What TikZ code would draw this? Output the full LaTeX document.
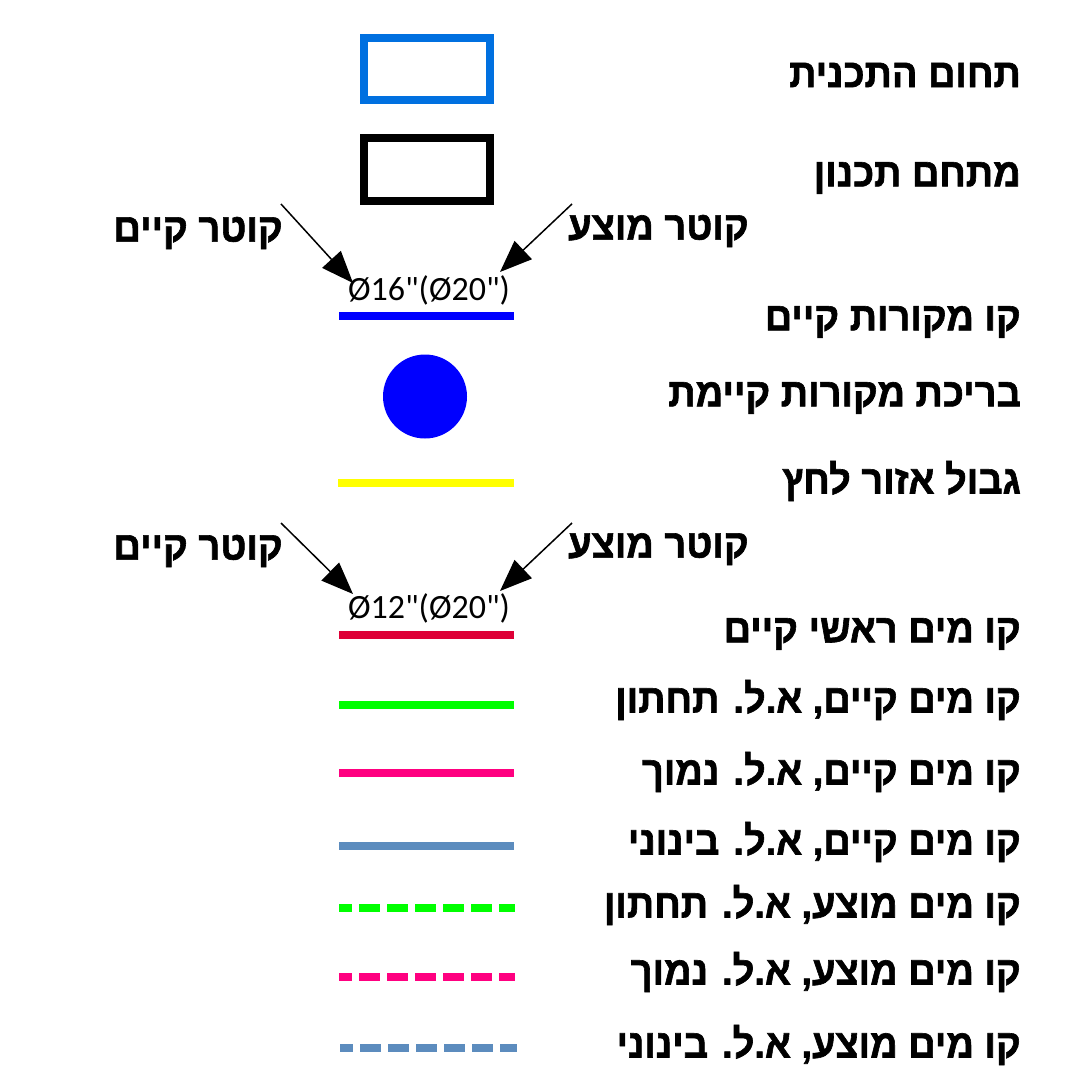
\documentclass[tikz,border=0pt]{standalone}
\usepackage{fontspec}
\usetikzlibrary{arrows.meta}
\TeXXeTstate=1
\newfontfamily\heb[Script=Hebrew,FakeStretch=0.95,FakeBold=1.5]{Liberation Sans Bold}
\newfontfamily\numfont{Carlito}
\definecolor{planblue}{RGB}{0,112,224}
\definecolor{poolblue}{RGB}{0,0,255}
\definecolor{crimsonline}{RGB}{222,0,55}
\definecolor{greenline}{RGB}{0,255,0}
\definecolor{pinkline}{RGB}{255,0,128}
\definecolor{steelline}{RGB}{92,140,190}
\definecolor{yellowline}{RGB}{255,255,0}
\tikzset{
  lbl/.style={anchor=east,inner sep=0pt,font=\heb\fontsize{40}{40}\selectfont},
  dia/.style={inner sep=0pt,font=\numfont\fontsize{34}{34}\selectfont},
  legline/.style={line width=8pt},
  dashline/.style={line width=8pt,dash pattern=on 21pt off 7pt,dash phase=8pt},
  pointer/.style={line width=1.5pt,-{Triangle[length=32pt,width=25pt]}}
}
\begin{document}
\begin{tikzpicture}[x=1pt,y=-1pt]
\useasboundingbox (0,0) rectangle (1071,1071);
% rectangles
\node[draw=planblue,line width=8pt,minimum width=126pt,minimum height=62pt,inner sep=0pt] (rplan) at (427,69) {};
\node[lbl] (tplan) at (1021,75) {\beginR תחום התכנית\endR};
\node[draw=black,line width=8pt,minimum width=126pt,minimum height=63pt,inner sep=0pt] (rzone) at (427,169.5) {};
\node[lbl] (tzone) at (1021,178) {\beginR מתחם תכנון\endR};
% diameter 1
\node[lbl] (ex1) at (283,233) {\beginR קוטר קיים\endR};
\node[lbl] (pr1) at (749,231) {\beginR קוטר מוצע\endR};
\node[dia] (d1) at (429,290) {Ø16"(Ø20")};
\coordinate (a1s) at (281,204);
\coordinate (a1e) at (353,283);
\coordinate (a2s) at (572,204);
\coordinate (a2e) at (500,272);
\draw[pointer] (a1s) -- (a1e);
\draw[pointer] (a2s) -- (a2e);
\coordinate (l1a) at (339,316); \coordinate (l1b) at (514,316);
\draw[legline,draw=poolblue] (l1a) -- (l1b);
\node[lbl] (t1) at (1021,322) {\beginR קו מקורות קיים\endR};
% pool
\node[circle,fill=poolblue,minimum size=84pt,inner sep=0pt] (pool) at (425,396.5) {};
\node[lbl] (t2) at (1021,398) {\beginR בריכת מקורות קיימת\endR};
% yellow
\coordinate (l2a) at (338,483); \coordinate (l2b) at (514,483);
\draw[legline,draw=yellowline] (l2a) -- (l2b);
\node[lbl] (t3) at (1021,481) {\beginR גבול אזור לחץ\endR};
% diameter 2
\node[lbl] (ex2) at (283,551) {\beginR קוטר קיים\endR};
\node[lbl] (pr2) at (749,549) {\beginR קוטר מוצע\endR};
\node[dia] (d2) at (429,608) {Ø12"(Ø20")};
\coordinate (a3s) at (281,523);
\coordinate (a3e) at (353,594);
\coordinate (a4s) at (572,523);
\coordinate (a4e) at (500,591);
\draw[pointer] (a3s) -- (a3e);
\draw[pointer] (a4s) -- (a4e);
\coordinate (l3a) at (339,635); \coordinate (l3b) at (514,635);
\draw[legline,draw=crimsonline] (l3a) -- (l3b);
\node[lbl] (t4) at (1021,634) {\beginR קו מים ראשי קיים\endR};
% existing lines
\coordinate (l4a) at (339,705); \coordinate (l4b) at (514,705);
\draw[legline,draw=greenline] (l4a) -- (l4b);
\node[lbl] (t5) at (1021,700) {\beginR קו מים קיים, א.ל. תחתון\endR};
\coordinate (l5a) at (339,773); \coordinate (l5b) at (514,773);
\draw[legline,draw=pinkline] (l5a) -- (l5b);
\node[lbl] (t6) at (1021,772) {\beginR קו מים קיים, א.ל. נמוך\endR};
\coordinate (l6a) at (339,846); \coordinate (l6b) at (514,846);
\draw[legline,draw=steelline] (l6a) -- (l6b);
\node[lbl] (t7) at (1021,842) {\beginR קו מים קיים, א.ל. בינוני\endR};
% proposed lines
\coordinate (l7a) at (339,908); \coordinate (l7b) at (515,908);
\draw[dashline,draw=greenline] (l7a) -- (l7b);
\node[lbl] (t8) at (1021,905) {\beginR קו מים מוצע, א.ל. תחתון\endR};
\coordinate (l8a) at (339,977); \coordinate (l8b) at (515,977);
\draw[dashline,draw=pinkline] (l8a) -- (l8b);
\node[lbl] (t9) at (1021,972) {\beginR קו מים מוצע, א.ל. נמוך\endR};
\coordinate (l9a) at (340,1048); \coordinate (l9b) at (517,1048);
\draw[dashline,draw=steelline] (l9a) -- (l9b);
\node[lbl] (t10) at (1021,1045) {\beginR קו מים מוצע, א.ל. בינוני\endR};
\end{tikzpicture}
\end{document}
